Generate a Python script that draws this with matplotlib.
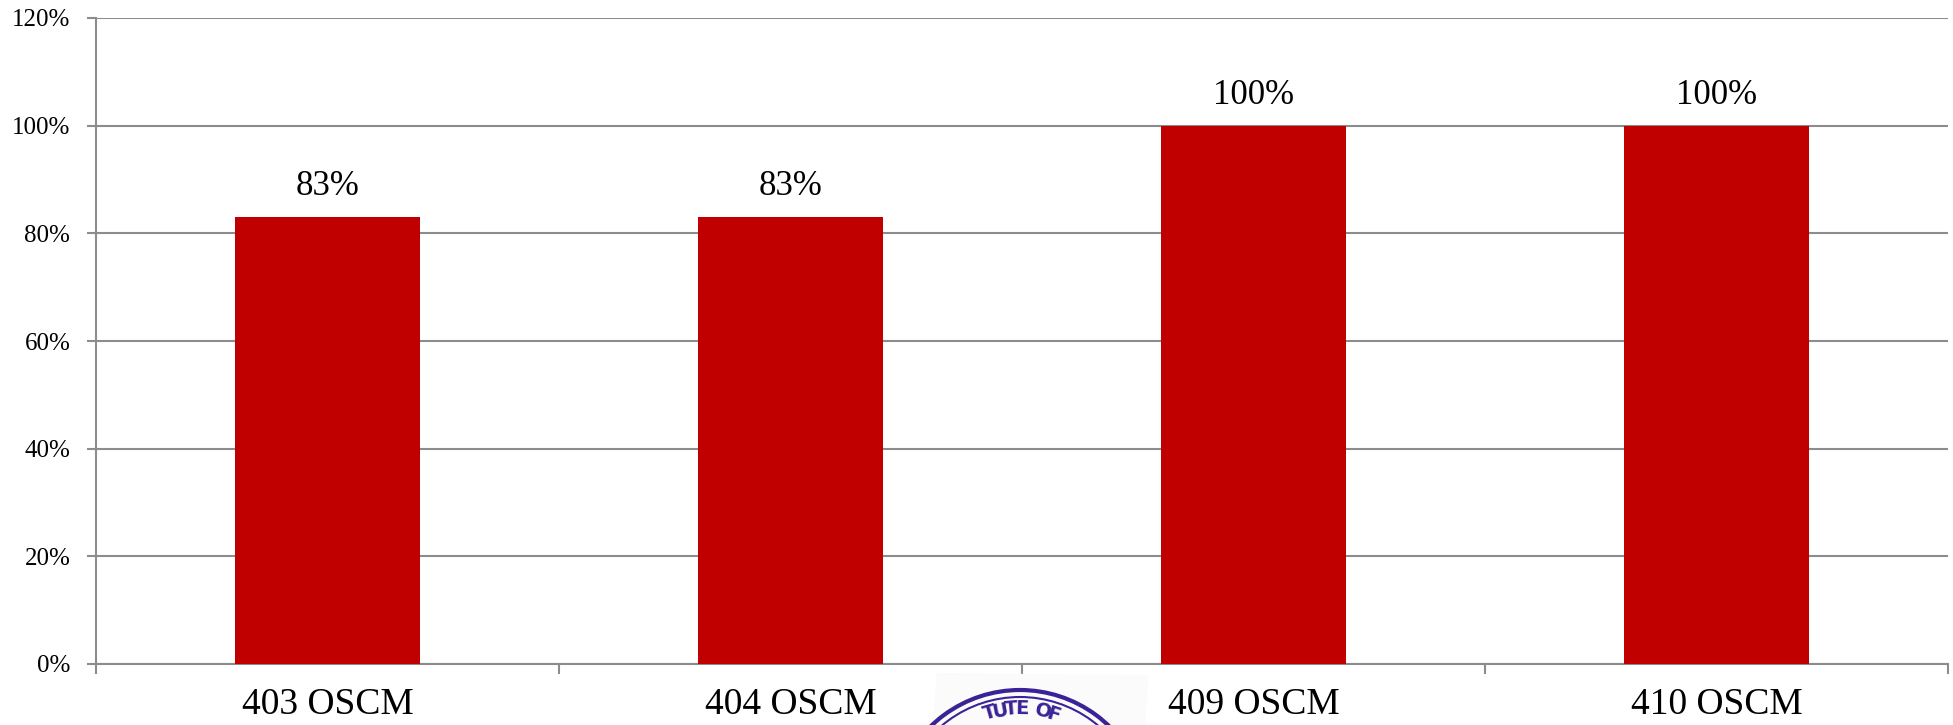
import numpy as np
import matplotlib
matplotlib.use("Agg")
import matplotlib.pyplot as plt
from matplotlib.patches import Arc, Rectangle
from matplotlib.ticker import FixedLocator, PercentFormatter

categories = ["403 OSCM", "404 OSCM", "409 OSCM", "410 OSCM"]
values = [83, 83, 100, 100]
value_labels = ["83%", "83%", "100%", "100%"]
y_ticks = [0, 20, 40, 60, 80, 100, 120]

BAR_COLOR = "#C00000"
GRID_COLOR = "#8c8c8c"
STAMP_INK = "#3b2397"

plt.rcParams["font.family"] = ["Liberation Serif", "DejaVu Serif"]

fig = plt.figure(figsize=(19.53, 7.25), dpi=100)
ax = fig.add_axes([96 / 1953, 1 - 664 / 725, (1948 - 96) / 1953, (664 - 18) / 725])

x = np.arange(len(categories))
bars = ax.bar(x, values, width=0.4, color=BAR_COLOR, zorder=3)

for b, lab in zip(bars, value_labels):
    ax.annotate(lab, (b.get_x() + b.get_width() / 2, b.get_height()),
                xytext=(0, 10), textcoords="offset points",
                ha="center", va="bottom", fontsize=25, color="black")

ax.set_xlim(-0.5, len(categories) - 0.5)
ax.set_ylim(0, 120)
ax.set_yticks(y_ticks)
ax.yaxis.set_major_formatter(PercentFormatter(decimals=0))
ax.grid(axis="y", color=GRID_COLOR, linewidth=1.5, zorder=0)
ax.set_axisbelow(True)

ax.set_xticks(x)
ax.set_xticklabels(categories, fontsize=27)
ax.xaxis.set_minor_locator(FixedLocator(np.arange(-0.5, len(categories), 1.0)))
ax.tick_params(axis="x", which="major", length=0, pad=17)
ax.tick_params(axis="x", which="minor", length=7, width=1.5, color=GRID_COLOR)
ax.tick_params(axis="y", length=6.5, width=1.5, color=GRID_COLOR, labelsize=18, pad=12)

for side in ["top", "right"]:
    ax.spines[side].set_visible(False)
for side in ["left", "bottom"]:
    ax.spines[side].set_color(GRID_COLOR)
    ax.spines[side].set_linewidth(1.5)

# stamp peeking in at the bottom
W, H = 1953, 725
stamp_bg = Rectangle((933 / W, 0), (1145 - 933) / W, (725 - 673) / H,
                     transform=fig.transFigure, facecolor="#fbfbfb",
                     edgecolor="none", zorder=5, angle=-1.5)
fig.patches.append(stamp_bg)
cx, cy = 1020, 725 - 818
for r, lw in [(128, 3.0), (121, 1.5)]:
    arc = Arc((cx / W, cy / H), 2 * r / W, 2 * r / H, theta1=40, theta2=140,
              transform=fig.transFigure, color=STAMP_INK, lw=lw, zorder=6)
    fig.patches.append(arc)
txt = "TUTE OF"
r_txt = 109
angles = np.linspace(106, 72, len(txt))
for ch, a in zip(txt, angles):
    px = cx + r_txt * np.cos(np.radians(a))
    py = cy + r_txt * np.sin(np.radians(a))
    fig.text(px / W, py / H, ch, rotation=a - 90, ha="center", va="center",
             fontsize=14, fontweight="bold", color=STAMP_INK, zorder=7,
             family=["DejaVu Sans"])

fig.savefig("out.png", dpi=100)
